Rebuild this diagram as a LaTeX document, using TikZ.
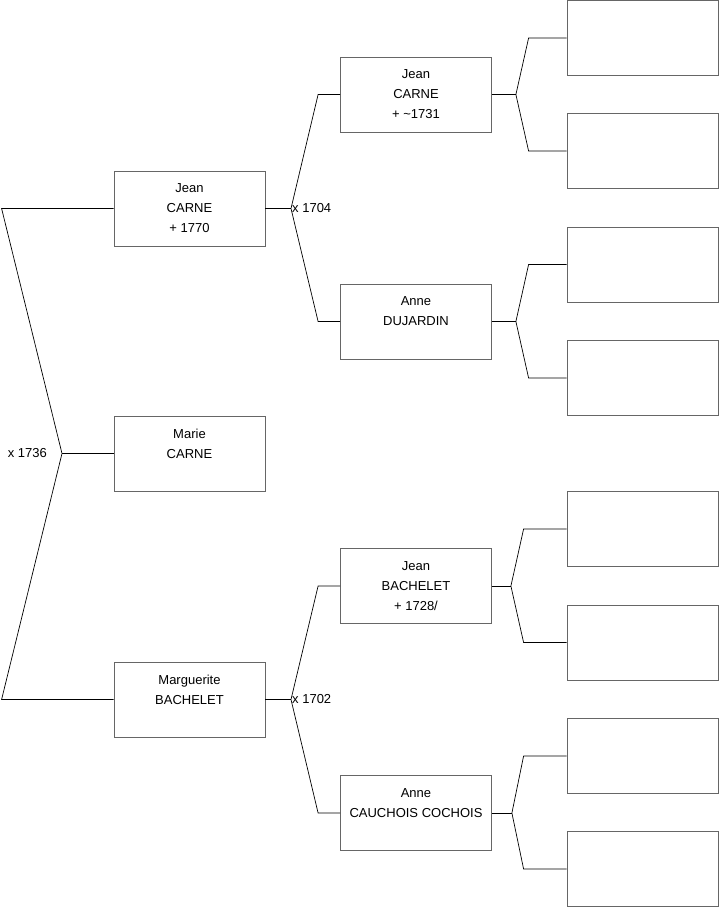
\documentclass[tikz,border=0pt]{standalone}
\usepackage{fontspec}
\setmainfont{Liberation Sans}
\usetikzlibrary{positioning,calc}

\begin{document}
\begin{tikzpicture}[
		x=1pt, y=-1pt,
		person/.style={
			draw=black!60,
			minimum width=151pt,
			minimum height=75pt,
			align=center,
			line width=0.8pt,
			font=\fontsize{13}{20}\selectfont
		},
		link/.style={draw, line width=0.7pt},
		union/.style={inner sep=1pt, font=\fontsize{13}{16}\selectfont}
		]
		\useasboundingbox (0,0) rectangle (719,908);
		
		% generation 1 and 2
		\node[person] (marie) at (189.5,453.5) {Marie\\CARNE\\~};
		\node[person] (jean) at (189.5,208.5) {Jean\\CARNE\\+ 1770};
		\node[person] (marguerite) at (189.5,699.5) {Marguerite\\BACHELET\\~};
		
		% generation 3
		\node[person] (jeanC) at (416,94.5) {Jean\\CARNE\\+ \textasciitilde1731};
		\node[person] (anneD) at (416,321.5) {Anne\\DUJARDIN\\~};
		\node[person] (jeanB) at (416,586) {Jean\\BACHELET\\+ 1728/};
		\node[person] (anneC) at (416,813) {Anne\\CAUCHOIS COCHOIS\\~};
		
		% generation 4 (empty)
		\node[person] (gg1) at (642.5,38) {};
		\node[person] (gg2) at (642.5,151) {};
		\node[person] (gg3) at (642.5,264.5) {};
		\node[person] (gg4) at (642.5,378) {};
		\node[person] (gg5) at (642.5,529) {};
		\node[person] (gg6) at (642.5,642.5) {};
		\node[person] (gg7) at (642.5,756) {};
		\node[person] (gg8) at (642.5,869) {};
		
		% unions
		\coordinate (u1736) at (62,453.5);
		\coordinate (u1704) at (291,208.5);
		\coordinate (u1702) at (291,699.5);
		
		\draw[link] (marie.west) -- (u1736);
		\draw[link] (jean.west) -- ++(-112,0) -- (u1736) -- ($(marguerite.west)+(-112,0)$) -- (marguerite.west);
		\node[union, left=14pt of u1736] (l1736) {x 1736};
		
		\draw[link] (jean.east) -- (u1704);
		\draw[link] (jeanC.west) -- ++(-22,0) -- (u1704) -- ($(anneD.west)+(-22,0)$) -- (anneD.west);
		\node[union, anchor=west] (l1704) at (u1704) {x 1704};
		
		\draw[link] (marguerite.east) -- (u1702);
		\draw[link] (jeanB.west) -- ++(-22,0) -- (u1702) -- ($(anneC.west)+(-22,0)$) -- (anneC.west);
		\node[union, anchor=west] (l1702) at (u1702) {x 1702};
		
		\foreach \p/\a/\b/\v/\k in {jeanC/gg1/gg2/24/38, anneD/gg3/gg4/24/38, jeanB/gg5/gg6/19/43, anneC/gg7/gg8/20/43}{
			\draw[link] (\p.east) -- ++(\v,0) coordinate (u\p);
			\draw[link] (\a.west) -- ++(-\k,0) -- (u\p) -- ($(\b.west)+(-\k,0)$) -- (\b.west);
		}
\end{tikzpicture}
\end{document}
